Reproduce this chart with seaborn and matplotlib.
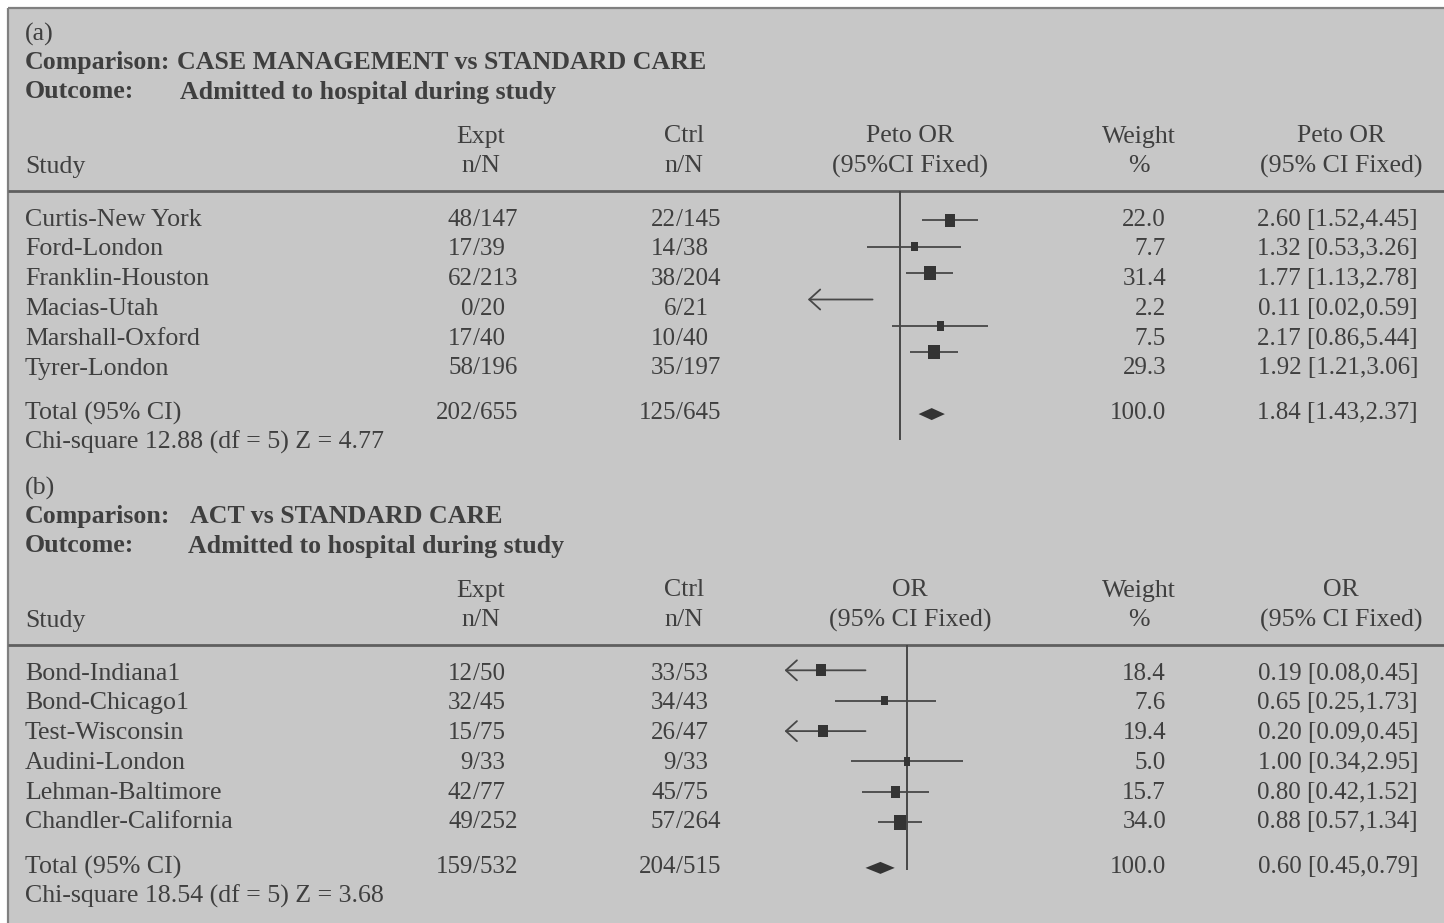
import matplotlib
matplotlib.use("Agg")
import numpy as np
import pandas as pd
import matplotlib.pyplot as plt
from matplotlib.patches import Rectangle
import seaborn as sns

# ---------------- panel (a) data ----------------
a_tag = "(a)"
a_comparison = "CASE MANAGEMENT vs STANDARD CARE"
a_outcome = "Admitted to hospital during study"
a_plot_head = ["Peto OR", "(95%CI Fixed)"]
a_table_head = ["Peto OR", "(95% CI Fixed)"]
a_studies = ["Curtis-New York", "Ford-London", "Franklin-Houston",
             "Macias-Utah", "Marshall-Oxford", "Tyrer-London"]
a_expt = ["48/147", "17/39", "62/213", "0/20", "17/40", "58/196"]
a_ctrl = ["22/145", "14/38", "38/204", "6/21", "10/40", "35/197"]
a_weight = [22.0, 7.7, 31.4, 2.2, 7.5, 29.3]
a_or = [2.60, 1.32, 1.77, 0.11, 2.17, 1.92]
a_lo = [1.52, 0.53, 1.13, 0.02, 0.86, 1.21]
a_hi = [4.45, 3.26, 2.78, 0.59, 5.44, 3.06]
a_total_expt = "202/655"
a_total_ctrl = "125/645"
a_total_weight = 100.0
a_total_or = 1.84
a_total_lo = 1.43
a_total_hi = 2.37
a_het = "Chi-square 12.88 (df = 5) Z = 4.77"

# ---------------- panel (b) data ----------------
b_tag = "(b)"
b_comparison = "ACT vs STANDARD CARE"
b_outcome = "Admitted to hospital during study"
b_plot_head = ["OR", "(95% CI Fixed)"]
b_table_head = ["OR", "(95% CI Fixed)"]
b_studies = ["Bond-Indiana1", "Bond-Chicago1", "Test-Wisconsin",
             "Audini-London", "Lehman-Baltimore", "Chandler-California"]
b_expt = ["12/50", "32/45", "15/75", "9/33", "42/77", "49/252"]
b_ctrl = ["33/53", "34/43", "26/47", "9/33", "45/75", "57/264"]
b_weight = [18.4, 7.6, 19.4, 5.0, 15.7, 34.0]
b_or = [0.19, 0.65, 0.20, 1.00, 0.80, 0.88]
b_lo = [0.08, 0.25, 0.09, 0.34, 0.42, 0.57]
b_hi = [0.45, 1.73, 0.45, 2.95, 1.52, 1.34]
b_total_expt = "159/532"
b_total_ctrl = "204/515"
b_total_weight = 100.0
b_total_or = 0.60
b_total_lo = 0.45
b_total_hi = 0.79
b_het = "Chi-square 18.54 (df = 5) Z = 3.68"

# ---------------- style ----------------
sns.set_theme(style="white")
plt.rcParams["font.family"] = ["Liberation Serif", "DejaVu Serif"]

W, H = 1444, 923
BG = "#c7c7c7"
TXT = "#3f3f3f"
INK = "#343434"
LINE = "#474747"
RULE = "#5f5f5f"
FS = 18.6         # words
FSN = 18          # numeric columns
K = 52.0          # pixels per natural-log unit on the OR scale

fig = plt.figure(figsize=(W / 100, H / 100), dpi=100)
fig.patch.set_facecolor("white")
bg = fig.add_axes([0, 0, 1, 1])
bg.set_xlim(0, W)
bg.set_ylim(H, 0)
bg.axis("off")
bg.add_patch(Rectangle((8, 8), W, H, facecolor=BG, edgecolor="none", zorder=0))
bg.plot([8, W], [8, 8], color="#808080", lw=1.6, zorder=1, solid_capstyle="butt")
bg.plot([8, 8], [8, H], color="#808080", lw=1.6, zorder=1, solid_capstyle="butt")

RECT = [(-0.4, -0.5), (0.4, -0.5), (0.4, 0.5), (-0.4, 0.5), (-0.4, -0.5)]


def txt(x, y, s, ha="left", bold=False, size=FS):
    bg.text(x, y, s, ha=ha, va="baseline", fontsize=size, color=TXT,
            fontweight="bold" if bold else "normal", zorder=3)


def frac(x, y, s):
    num, den = s.split("/")
    txt(x, y, num, ha="right", size=FSN)
    txt(x, y, "/" + den, ha="left", size=FSN)


def panel(off, tag, comparison, outcome, plot_head, table_head, studies, expt,
          ctrl, weight, orv, lo, hi, t_expt, t_ctrl, t_w, t_or, t_lo, t_hi, het,
          comp_x, outc_x, null_x, xmin, xmax, f_row0, f_pitch, f_total,
          line_top, line_bot):
    # ---- header block ----
    txt(25, 41 + off, tag)
    txt(25, 69 + off, "Comparison:", bold=True)
    txt(comp_x, 69 + off, comparison, bold=True)
    txt(25, 98.5 + off, "Outcome:", bold=True)
    txt(outc_x, 98.5 + off, outcome, bold=True)

    h1, h2 = 142.5 + off, 172.5 + off
    txt(25, h2, "Study")
    txt(481, h1, "Expt", ha="center")
    txt(481, h2, "n/N", ha="center")
    txt(684, h1, "Ctrl", ha="center")
    txt(684, h2, "n/N", ha="center")
    txt(910, h1, plot_head[0], ha="center")
    txt(910, h2, plot_head[1], ha="center")
    txt(1139, h1, "Weight", ha="center")
    txt(1139, h2, "%", ha="center")
    txt(1341, h1, table_head[0], ha="center")
    txt(1341, h2, table_head[1], ha="center")
    bg.plot([8, W], [191 + off, 191 + off], color=RULE, lw=2.0, zorder=2,
            solid_capstyle="butt")

    # ---- table rows ----
    row0, pitch = 225.5 + off, 29.8
    for i, st in enumerate(studies):
        y = row0 + i * pitch
        txt(25, y, st)
        frac(473, y, expt[i])
        frac(676, y, ctrl[i])
        txt(1166, y, f"{weight[i]:.1f}", ha="right", size=FSN)
        txt(1418, y, f"{orv[i]:.2f} [{lo[i]:.2f},{hi[i]:.2f}]", ha="right", size=FSN)
    yt = row0 + 6.5 * pitch
    txt(25, yt, "Total (95% CI)")
    frac(473, yt, t_expt)
    frac(676, yt, t_ctrl)
    txt(1166, yt, f"{t_w:.1f}", ha="right", size=FSN)
    txt(1418, yt, f"{t_or:.2f} [{t_lo:.2f},{t_hi:.2f}]", ha="right", size=FSN)
    txt(25, yt + pitch, het)

    # ---- forest plot (log OR scale) ----
    left_px = null_x + K * np.log(xmin)
    right_px = null_x + K * np.log(xmax)
    ax = fig.add_axes([left_px / W, 1 - line_bot / H,
                       (right_px - left_px) / W, (line_bot - line_top) / H])
    ax.set_facecolor("none")
    ax.set_xscale("log")

    n = len(studies)
    df = pd.DataFrame({"or": orv, "lo": lo, "hi": hi, "w": weight,
                       "row": np.arange(n, dtype=float)})
    side_px = 4.5 + 1.8 * np.sqrt(df["w"].to_numpy())
    sizes = (side_px * 0.72) ** 2

    for r in df.itertuples():
        x0 = max(r.lo, xmin)
        x1 = min(r.hi, xmax)
        if r.lo < xmin:
            ax.annotate("", xy=(xmin, r.row), xytext=(x1, r.row),
                        arrowprops=dict(arrowstyle="->,head_length=0.66,head_width=0.6",
                                        color=LINE, lw=1.3, shrinkA=0, shrinkB=0,
                                        mutation_scale=12))
        else:
            ax.hlines(r.row, x0, x1, color=LINE, lw=1.3, zorder=2)

    sns.scatterplot(data=df, x="or", y="row", s=sizes, marker=RECT, color=INK,
                    edgecolor="none", linewidth=0, legend=False, ax=ax, zorder=3)

    hh = 6.0 / f_pitch
    ax.fill([t_lo, t_or, t_hi, t_or], [f_total, f_total - hh, f_total, f_total + hh],
            color=INK, lw=0, zorder=3, clip_on=False)
    ax.axvline(1.0, color=LINE, lw=1.4, zorder=1)

    ax.set_xlim(xmin, xmax)
    ax.set_ylim((line_bot - f_row0) / f_pitch, (line_top - f_row0) / f_pitch)
    ax.axis("off")


panel(0, a_tag, a_comparison, a_outcome, a_plot_head, a_table_head, a_studies,
      a_expt, a_ctrl, a_weight, a_or, a_lo, a_hi, a_total_expt, a_total_ctrl,
      a_total_weight, a_total_or, a_total_lo, a_total_hi, a_het,
      comp_x=177, outc_x=180, null_x=900, xmin=0.17, xmax=10.0,
      f_row0=220.3, f_pitch=26.4, f_total=7.34, line_top=191, line_bot=440)

panel(454, b_tag, b_comparison, b_outcome, b_plot_head, b_table_head, b_studies,
      b_expt, b_ctrl, b_weight, b_or, b_lo, b_hi, b_total_expt, b_total_ctrl,
      b_total_weight, b_total_or, b_total_lo, b_total_hi, b_het,
      comp_x=190, outc_x=188, null_x=907, xmin=0.095, xmax=10.0,
      f_row0=670.3, f_pitch=30.4, f_total=6.5, line_top=645, line_bot=870)

fig.savefig("out.png", dpi=100, facecolor=fig.get_facecolor())
